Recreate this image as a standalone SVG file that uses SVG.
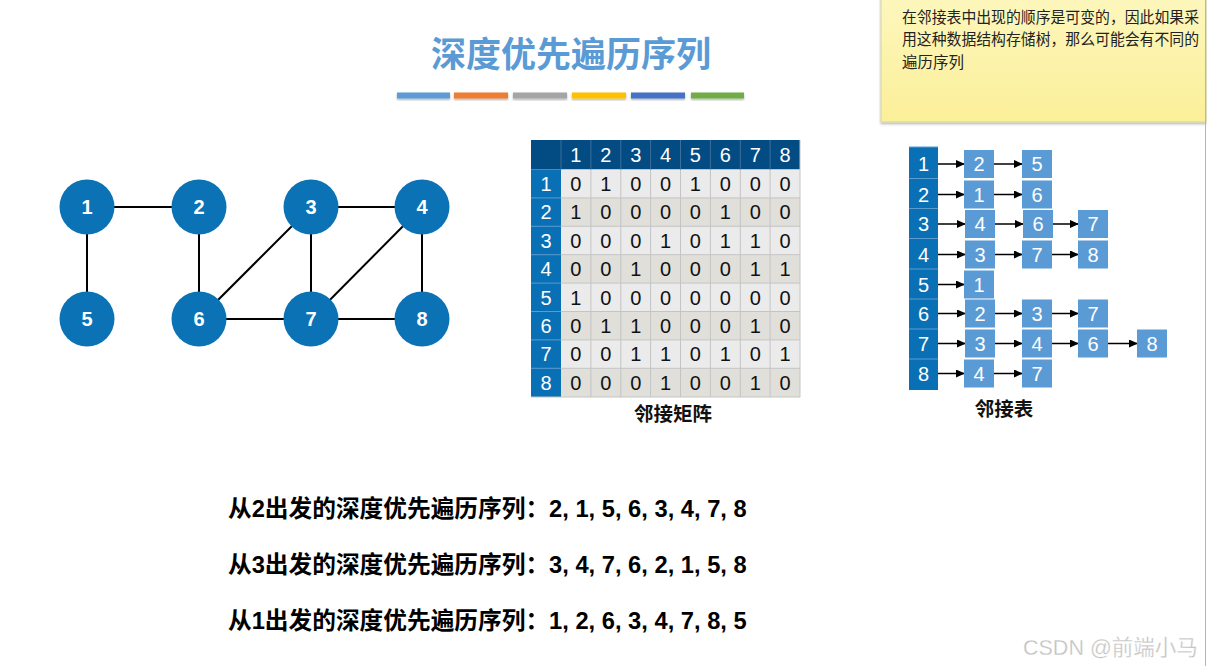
<svg xmlns="http://www.w3.org/2000/svg" width="1207" height="666" viewBox="0 0 1207 666">
<defs>
<style>
.title{font-family:"Noto Sans CJK SC","Liberation Sans",sans-serif;font-size:35px;font-weight:bold;fill:#5b9bd5}
.node circle{fill:#0b72b6}
.node text{font-family:"Liberation Sans",sans-serif;font-size:20px;font-weight:bold;fill:#fff;text-anchor:middle}
.edge{stroke:#000;stroke-width:2}
.mh{font-family:"Liberation Sans",sans-serif;font-size:20px;fill:#fff;text-anchor:middle}
.mb{font-family:"Liberation Sans",sans-serif;font-size:20px;fill:#111;text-anchor:middle}
.box{fill:#5b9bd5}
.bt{font-family:"Liberation Sans",sans-serif;font-size:20px;fill:#fff;text-anchor:middle}
.arr{stroke:#000;stroke-width:1.5;marker-end:url(#ah)}
.cap{font-family:"Liberation Sans","Noto Sans CJK SC",sans-serif;font-size:19.5px;font-weight:bold;fill:#111;text-anchor:middle}
.seq{font-family:"Liberation Sans","Noto Sans CJK SC",sans-serif;font-size:23.7px;font-weight:bold;fill:#000}
.note{font-family:"Noto Sans CJK SC","Liberation Sans",sans-serif;font-size:15.5px;fill:#222}
</style>
<marker id="ah" markerWidth="9" markerHeight="8" refX="8" refY="4" orient="auto" markerUnits="userSpaceOnUse">
<path d="M0,0 L9,4 L0,8 z" fill="#000"/>
</marker>
<linearGradient id="ng" x1="0" y1="0" x2="0" y2="1">
<stop offset="0" stop-color="#fdf7bd"/>
<stop offset="1" stop-color="#fbef99"/>
</linearGradient>
<filter id="sh" x="-10%" y="-10%" width="120%" height="140%">
<feDropShadow dx="0" dy="1.5" stdDeviation="1.2" flood-color="#000" flood-opacity="0.3"/>
</filter>
</defs>
<rect width="1207" height="666" fill="#fff"/>

<g id="note">
<rect x="881" y="-5" width="325" height="127" fill="url(#ng)" stroke="#d8d3a0" stroke-width="1" filter="url(#sh)"/>
<text class="note" x="902" y="22.5" textLength="297" lengthAdjust="spacingAndGlyphs">在邻接表中出现的顺序是可变的，因此如果采</text>
<text class="note" x="902" y="45" textLength="297" lengthAdjust="spacingAndGlyphs">用这种数据结构存储树，那么可能会有不同的</text>
<text class="note" x="902" y="67.5">遍历序列</text>
</g>
<line x1="1205.5" y1="0" x2="1205.5" y2="666" stroke="#b5b5b5" stroke-width="1"/>

<g id="title">
<text class="title" x="571" y="67" text-anchor="middle">深度优先遍历序列</text>
<g filter="url(#sh)">
<rect x="397" y="92.5" width="53" height="6" fill="#5b9bd5"/>
<rect x="454" y="92.5" width="54" height="6" fill="#ed7d31"/>
<rect x="513" y="92.5" width="54" height="6" fill="#a5a5a5"/>
<rect x="572" y="92.5" width="54" height="6" fill="#ffc000"/>
<rect x="631" y="92.5" width="54" height="6" fill="#4472c4"/>
<rect x="691" y="92.5" width="53" height="6" fill="#70ad47"/>
</g>
</g>

<g id="connectors">
<line class="edge" x1="87" y1="207" x2="199" y2="207"/>
<line class="edge" x1="87" y1="207" x2="87" y2="319"/>
<line class="edge" x1="199" y1="207" x2="199" y2="319"/>
<line class="edge" x1="311" y1="207" x2="422" y2="207"/>
<line class="edge" x1="311" y1="207" x2="199" y2="319"/>
<line class="edge" x1="311" y1="207" x2="311" y2="319"/>
<line class="edge" x1="422" y1="207" x2="311" y2="319"/>
<line class="edge" x1="422" y1="207" x2="422" y2="319"/>
<line class="edge" x1="199" y1="319" x2="311" y2="319"/>
<line class="edge" x1="311" y1="319" x2="422" y2="319"/>
</g>
<g id="n1" class="node"><circle cx="87" cy="207" r="27.5"/><text x="87" y="214">1</text></g>
<g id="n2" class="node"><circle cx="199" cy="207" r="27.5"/><text x="199" y="214">2</text></g>
<g id="n3" class="node"><circle cx="311" cy="207" r="27.5"/><text x="311" y="214">3</text></g>
<g id="n4" class="node"><circle cx="422" cy="207" r="27.5"/><text x="422" y="214">4</text></g>
<g id="n5" class="node"><circle cx="87" cy="319" r="27.5"/><text x="87" y="326">5</text></g>
<g id="n6" class="node"><circle cx="199" cy="319" r="27.5"/><text x="199" y="326">6</text></g>
<g id="n7" class="node"><circle cx="311" cy="319" r="27.5"/><text x="311" y="326">7</text></g>
<g id="n8" class="node"><circle cx="422" cy="319" r="27.5"/><text x="422" y="326">8</text></g>

<g id="matrix">
<rect x="531" y="140" width="269" height="29.5" fill="#024b83"/>
<rect x="531" y="169.5" width="30" height="227.5" fill="#0a70b6"/>
<rect x="561" y="169.5" width="239" height="28.4" fill="#ebebeb"/>
<rect x="561" y="197.9" width="239" height="28.4" fill="#e0dfda"/>
<rect x="561" y="226.3" width="239" height="28.4" fill="#ebebeb"/>
<rect x="561" y="254.7" width="239" height="28.4" fill="#e0dfda"/>
<rect x="561" y="283.1" width="239" height="28.4" fill="#ebebeb"/>
<rect x="561" y="311.5" width="239" height="28.4" fill="#e0dfda"/>
<rect x="561" y="339.9" width="239" height="28.4" fill="#ebebeb"/>
<rect x="561" y="368.3" width="239" height="28.7" fill="#e0dfda"/>
<g stroke="#c4c4c4" stroke-width="1">
<path d="M590.9,169.5V397M620.8,169.5V397M650.6,169.5V397M680.5,169.5V397M710.4,169.5V397M740.3,169.5V397M770.1,169.5V397M800,140V397"/>
<path d="M561,197.9H800M561,226.3H800M561,254.7H800M561,283.1H800M561,311.5H800M561,339.9H800M561,368.3H800M531,397H800"/>
</g>
<g stroke="#3d6f99" stroke-width="1">
<path d="M561,140V169.5M590.9,140V169.5M620.8,140V169.5M650.6,140V169.5M680.5,140V169.5M710.4,140V169.5M740.3,140V169.5M770.1,140V169.5"/>
</g>
<g stroke="#5a9bd0" stroke-width="1">
<path d="M531,197.9H561M531,226.3H561M531,254.7H561M531,283.1H561M531,311.5H561M531,339.9H561M531,368.3H561"/>
</g>
<g class="mh">
<text x="575.9" y="162">1</text><text x="605.8" y="162">2</text><text x="635.7" y="162">3</text><text x="665.5" y="162">4</text><text x="695.4" y="162">5</text><text x="725.3" y="162">6</text><text x="755.2" y="162">7</text><text x="785.1" y="162">8</text>
<text x="546" y="191">1</text><text x="546" y="219.4">2</text><text x="546" y="247.8">3</text><text x="546" y="276.2">4</text><text x="546" y="304.6">5</text><text x="546" y="333">6</text><text x="546" y="361.4">7</text><text x="546" y="389.8">8</text>
</g>
<g class="mb">
<text y="191"><tspan x="575.9">0</tspan><tspan x="605.8">1</tspan><tspan x="635.7">0</tspan><tspan x="665.5">0</tspan><tspan x="695.4">1</tspan><tspan x="725.3">0</tspan><tspan x="755.2">0</tspan><tspan x="785.1">0</tspan></text>
<text y="219.4"><tspan x="575.9">1</tspan><tspan x="605.8">0</tspan><tspan x="635.7">0</tspan><tspan x="665.5">0</tspan><tspan x="695.4">0</tspan><tspan x="725.3">1</tspan><tspan x="755.2">0</tspan><tspan x="785.1">0</tspan></text>
<text y="247.8"><tspan x="575.9">0</tspan><tspan x="605.8">0</tspan><tspan x="635.7">0</tspan><tspan x="665.5">1</tspan><tspan x="695.4">0</tspan><tspan x="725.3">1</tspan><tspan x="755.2">1</tspan><tspan x="785.1">0</tspan></text>
<text y="276.2"><tspan x="575.9">0</tspan><tspan x="605.8">0</tspan><tspan x="635.7">1</tspan><tspan x="665.5">0</tspan><tspan x="695.4">0</tspan><tspan x="725.3">0</tspan><tspan x="755.2">1</tspan><tspan x="785.1">1</tspan></text>
<text y="304.6"><tspan x="575.9">1</tspan><tspan x="605.8">0</tspan><tspan x="635.7">0</tspan><tspan x="665.5">0</tspan><tspan x="695.4">0</tspan><tspan x="725.3">0</tspan><tspan x="755.2">0</tspan><tspan x="785.1">0</tspan></text>
<text y="333"><tspan x="575.9">0</tspan><tspan x="605.8">1</tspan><tspan x="635.7">1</tspan><tspan x="665.5">0</tspan><tspan x="695.4">0</tspan><tspan x="725.3">0</tspan><tspan x="755.2">1</tspan><tspan x="785.1">0</tspan></text>
<text y="361.4"><tspan x="575.9">0</tspan><tspan x="605.8">0</tspan><tspan x="635.7">1</tspan><tspan x="665.5">1</tspan><tspan x="695.4">0</tspan><tspan x="725.3">1</tspan><tspan x="755.2">0</tspan><tspan x="785.1">1</tspan></text>
<text y="389.8"><tspan x="575.9">0</tspan><tspan x="605.8">0</tspan><tspan x="635.7">0</tspan><tspan x="665.5">1</tspan><tspan x="695.4">0</tspan><tspan x="725.3">0</tspan><tspan x="755.2">1</tspan><tspan x="785.1">0</tspan></text>
</g>
<text class="cap" x="673" y="421">邻接矩阵</text>
</g>

<g id="adjlist">
<rect x="909" y="147" width="29" height="243" fill="#0a70b6"/>
<g stroke="#5a9bd0" stroke-width="1">
<path d="M909,147H938M909,178.5H938M909,208.5H938M909,238.5H938M909,269H938M909,299H938M909,329H938M909,359H938"/>
</g>
<g class="bt">
<text x="923.5" y="171">1</text><text x="923.5" y="201.5">2</text><text x="923.5" y="231">3</text><text x="923.5" y="261.5">4</text><text x="923.5" y="291.5">5</text><text x="923.5" y="320.5">6</text><text x="923.5" y="350.5">7</text><text x="923.5" y="380.5">8</text>
</g>
<g id="connectors-list">
<line class="arr" x1="938" y1="164" x2="964" y2="164"/><line class="arr" x1="994" y1="164" x2="1022" y2="164"/>
<line class="arr" x1="938" y1="194.5" x2="964" y2="194.5"/><line class="arr" x1="994" y1="194.5" x2="1022" y2="194.5"/>
<line class="arr" x1="938" y1="224" x2="965" y2="224"/><line class="arr" x1="995" y1="224" x2="1023" y2="224"/><line class="arr" x1="1053" y1="224" x2="1078" y2="224"/>
<line class="arr" x1="938" y1="254.5" x2="965" y2="254.5"/><line class="arr" x1="995" y1="254.5" x2="1022" y2="254.5"/><line class="arr" x1="1052" y1="254.5" x2="1078" y2="254.5"/>
<line class="arr" x1="938" y1="284.5" x2="964" y2="284.5"/>
<line class="arr" x1="938" y1="313.5" x2="965" y2="313.5"/><line class="arr" x1="995" y1="313.5" x2="1022" y2="313.5"/><line class="arr" x1="1052" y1="313.5" x2="1078" y2="313.5"/>
<line class="arr" x1="938" y1="343.5" x2="965" y2="343.5"/><line class="arr" x1="995" y1="343.5" x2="1022" y2="343.5"/><line class="arr" x1="1052" y1="343.5" x2="1078" y2="343.5"/><line class="arr" x1="1108" y1="343.5" x2="1137" y2="343.5"/>
<line class="arr" x1="938" y1="373.5" x2="964" y2="373.5"/><line class="arr" x1="994" y1="373.5" x2="1022" y2="373.5"/>
</g>
<g>
<rect class="box" x="964" y="150" width="30" height="28"/><text class="bt" x="979" y="171">2</text>
<rect class="box" x="1022" y="150" width="30" height="28"/><text class="bt" x="1037" y="171">5</text>
<rect class="box" x="964" y="180.5" width="30" height="28"/><text class="bt" x="979" y="201.5">1</text>
<rect class="box" x="1022" y="180.5" width="30" height="28"/><text class="bt" x="1037" y="201.5">6</text>
<rect class="box" x="965" y="210" width="30" height="28"/><text class="bt" x="980" y="231">4</text>
<rect class="box" x="1023" y="210" width="30" height="28"/><text class="bt" x="1038" y="231">6</text>
<rect class="box" x="1078" y="210" width="30" height="28"/><text class="bt" x="1093" y="231">7</text>
<rect class="box" x="965" y="240.5" width="30" height="28"/><text class="bt" x="980" y="261.5">3</text>
<rect class="box" x="1022" y="240.5" width="30" height="28"/><text class="bt" x="1037" y="261.5">7</text>
<rect class="box" x="1078" y="240.5" width="30" height="28"/><text class="bt" x="1093" y="261.5">8</text>
<rect class="box" x="964" y="270.5" width="30" height="28"/><text class="bt" x="979" y="291.5">1</text>
<rect class="box" x="965" y="299.5" width="30" height="28"/><text class="bt" x="980" y="320.5">2</text>
<rect class="box" x="1022" y="299.5" width="30" height="28"/><text class="bt" x="1037" y="320.5">3</text>
<rect class="box" x="1078" y="299.5" width="30" height="28"/><text class="bt" x="1093" y="320.5">7</text>
<rect class="box" x="965" y="329.5" width="30" height="28"/><text class="bt" x="980" y="350.5">3</text>
<rect class="box" x="1022" y="329.5" width="30" height="28"/><text class="bt" x="1037" y="350.5">4</text>
<rect class="box" x="1078" y="329.5" width="30" height="28"/><text class="bt" x="1093" y="350.5">6</text>
<rect class="box" x="1137" y="329.5" width="30" height="28"/><text class="bt" x="1152" y="350.5">8</text>
<rect class="box" x="964" y="359.5" width="30" height="28"/><text class="bt" x="979" y="380.5">4</text>
<rect class="box" x="1022" y="359.5" width="30" height="28"/><text class="bt" x="1037" y="380.5">7</text>
</g>
<text class="cap" x="1004" y="416">邻接表</text>
</g>

<g id="sequences">
<text class="seq" x="228" y="517">从2出发的深度优先遍历序列：2, 1, 5, 6, 3, 4, 7, 8</text>
<text class="seq" x="228" y="573">从3出发的深度优先遍历序列：3, 4, 7, 6, 2, 1, 5, 8</text>
<text class="seq" x="228" y="629">从1出发的深度优先遍历序列：1, 2, 6, 3, 4, 7, 8, 5</text>
</g>

<text x="1023" y="655" font-family="Liberation Sans,Noto Sans CJK SC,sans-serif" font-size="21.5" fill="#c2c2c2" stroke="#fff" stroke-width="0.3">CSDN @前端小马</text>
</svg>
